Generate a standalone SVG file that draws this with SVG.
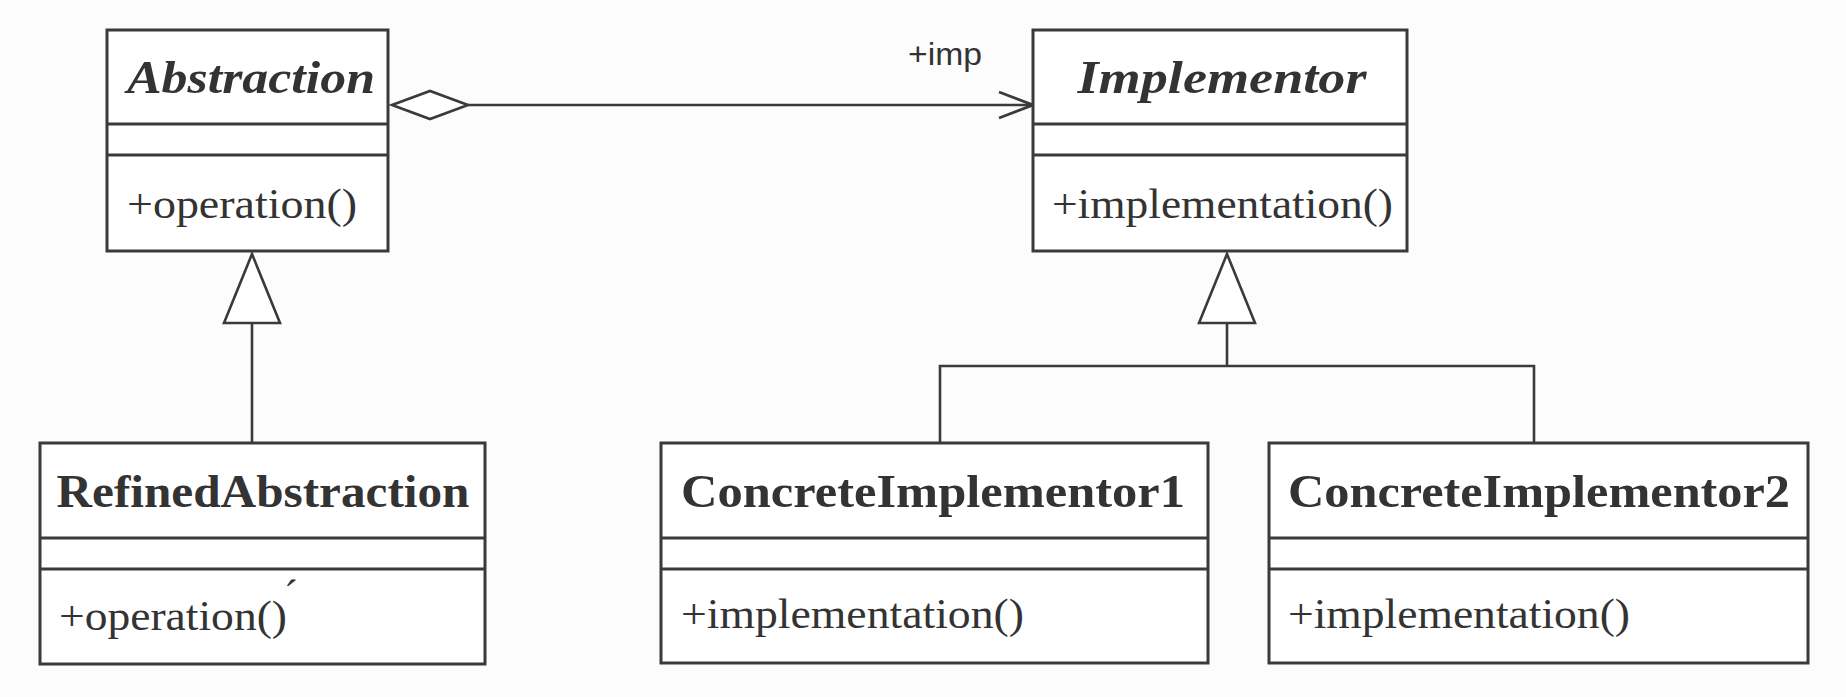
<svg xmlns="http://www.w3.org/2000/svg" width="1846" height="697" viewBox="0 0 1846 697">
<style>
.box{fill:#ffffff;stroke:#3a3a3a;stroke-width:3}
.div{stroke:#3a3a3a;stroke-width:3}
.ln{fill:none;stroke:#3a3a3a;stroke-width:2.6}
.title{font-family:"Liberation Serif","DejaVu Serif",serif;font-weight:bold;font-size:46px;fill:#333333;text-anchor:middle}
.ital{font-style:italic}
.meth{font-family:"Liberation Serif","DejaVu Serif",serif;font-size:42px;fill:#333333}
.lbl{font-family:"Liberation Sans","DejaVu Sans",sans-serif;font-size:31px;fill:#333333}
</style>
<defs>
<marker id="open" viewBox="0 0 40 30" refX="38" refY="15" markerWidth="40" markerHeight="30" markerUnits="userSpaceOnUse" orient="auto">
<path d="M4,2 L38,15 L4,28" fill="none" stroke="#3a3a3a" stroke-width="2.6"/>
</marker>
</defs>
<rect width="1846" height="697" fill="#fcfcfc"/>
<g id="connectors">
<line class="ln" x1="468" y1="105" x2="1033" y2="105" marker-end="url(#open)"/>
<polygon points="392,105 430,91 468,105 430,119" fill="#ffffff" stroke="#3a3a3a" stroke-width="2.6"/>
<text class="lbl" x="908" y="65" textLength="74" lengthAdjust="spacingAndGlyphs">+imp</text>
<line class="ln" x1="252" y1="323" x2="252" y2="443"/>
<polygon points="252,254 280,323 224,323" fill="#ffffff" stroke="#3a3a3a" stroke-width="2.6"/>
<polyline class="ln" points="940,443 940,366 1534,366 1534,443"/>
<line class="ln" x1="1227" y1="323" x2="1227" y2="366"/>
<polygon points="1227,254 1255,323 1199,323" fill="#ffffff" stroke="#3a3a3a" stroke-width="2.6"/>
</g>
<g id="abstraction">
<rect class="box" x="107" y="30" width="281" height="221"/>
<line class="div" x1="107" y1="124" x2="388" y2="124"/>
<line class="div" x1="107" y1="155" x2="388" y2="155"/>
<text class="title ital" x="251" y="93" textLength="248" lengthAdjust="spacingAndGlyphs">Abstraction</text>
<text class="meth" x="127" y="218" textLength="230" lengthAdjust="spacingAndGlyphs">+operation()</text>
</g>
<g id="implementor">
<rect class="box" x="1033" y="30" width="374" height="221"/>
<line class="div" x1="1033" y1="124" x2="1407" y2="124"/>
<line class="div" x1="1033" y1="155" x2="1407" y2="155"/>
<text class="title ital" x="1222" y="93" textLength="289" lengthAdjust="spacingAndGlyphs">Implementor</text>
<text class="meth" x="1052" y="218" textLength="341" lengthAdjust="spacingAndGlyphs">+implementation()</text>
</g>
<g id="refinedAbstraction">
<rect class="box" x="40" y="443" width="445" height="221"/>
<line class="div" x1="40" y1="538" x2="485" y2="538"/>
<line class="div" x1="40" y1="569" x2="485" y2="569"/>
<text class="title" x="263" y="507" textLength="413" lengthAdjust="spacingAndGlyphs">RefinedAbstraction</text>
<text class="meth" x="59" y="630" textLength="228" lengthAdjust="spacingAndGlyphs">+operation()</text>
<text class="meth" x="284" y="609" font-size="22">´</text>
</g>
<g id="concreteImplementor1">
<rect class="box" x="661" y="443" width="547" height="220"/>
<line class="div" x1="661" y1="538" x2="1208" y2="538"/>
<line class="div" x1="661" y1="569" x2="1208" y2="569"/>
<text class="title" x="933" y="507" textLength="504" lengthAdjust="spacingAndGlyphs">ConcreteImplementor1</text>
<text class="meth" x="681" y="628" textLength="343" lengthAdjust="spacingAndGlyphs">+implementation()</text>
</g>
<g id="concreteImplementor2">
<rect class="box" x="1269" y="443" width="539" height="220"/>
<line class="div" x1="1269" y1="538" x2="1808" y2="538"/>
<line class="div" x1="1269" y1="569" x2="1808" y2="569"/>
<text class="title" x="1539" y="507" textLength="502" lengthAdjust="spacingAndGlyphs">ConcreteImplementor2</text>
<text class="meth" x="1288" y="628" textLength="342" lengthAdjust="spacingAndGlyphs">+implementation()</text>
</g>
</svg>
